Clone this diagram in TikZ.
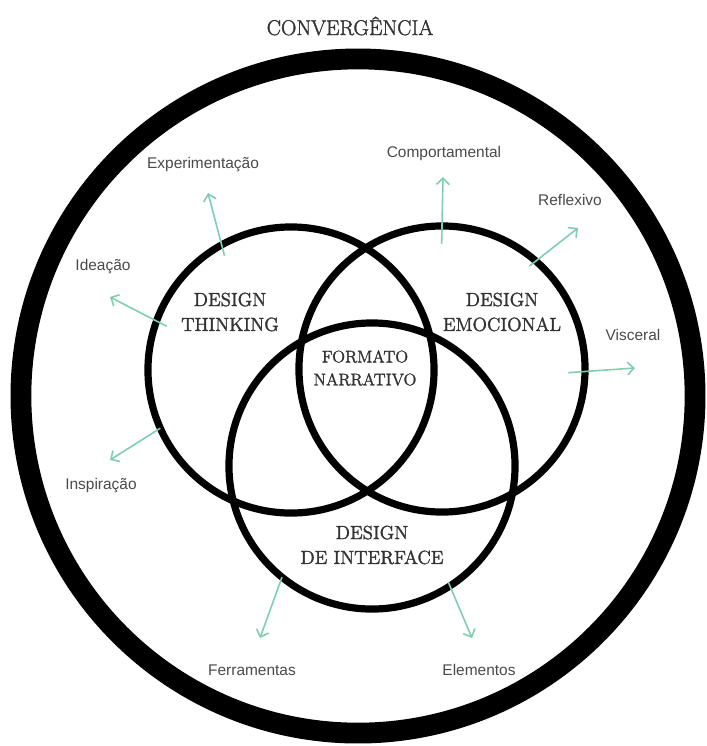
\documentclass[tikz,border=0pt]{standalone}
\usepackage{fontspec}
\newfontfamily\leaffont{Liberation Sans}
\newfontfamily\areafont[FakeBold=1.6]{Latin Modern Roman}
\usetikzlibrary{arrows.meta}
\definecolor{mint}{HTML}{7FCFAF}
\definecolor{inkgray}{HTML}{333333}
\definecolor{leafgray}{HTML}{4A4A4A}

\begin{document}
\begin{tikzpicture}[
    x=0.025cm, y=-0.025cm,
    ring/.style={circle, draw=black, line width=0.52cm, minimum size=16.85cm, inner sep=0pt, outer sep=0pt},
    venn/.style={circle, draw=black, line width=0.18cm, minimum size=7.15cm, inner sep=0pt, outer sep=0pt},
    area/.style={align=center, text=inkgray, font=\areafont\fontsize{13.5}{17.7}\selectfont},
    leaf/.style={text=leafgray, font=\leaffont\fontsize{11}{13}\selectfont},
    arr/.style={-{Straight Barb[length=1.6mm, width=3.2mm]}, draw=mint, line width=0.04cm}
]
\useasboundingbox (0,0) rectangle (707,746);

% outer ring and title
\node[ring] (conv) at (358,396) {};
\node[area, font=\areafont\fontsize{15.2}{18}\selectfont] (title) at (350,26) {CONVERGÊNCIA};

% the three circles
\node[venn] (dt) at (291,370) {};
\node[venn] (de) at (442,369) {};
\node[venn] (di) at (372,466) {};

\node[area] (dtname) at (230,312) {DESIGN\\THINKING};
\node[area] (dename) at (502,312) {DESIGN\\EMOCIONAL};
\node[area, font=\areafont\fontsize{12}{16.3}\selectfont] (fn) at (365,368) {FORMATO\\NARRATIVO};
\node[area] (diname) at (372,545) {DESIGN\\DE INTERFACE};

% outer labels
\node[leaf] (exp) at (203,165) {Experimentação};
\node[leaf] (idea) at (103,267) {Ideação};
\node[leaf] (insp) at (101,486) {Inspiração};
\node[leaf] (comp) at (444,153) {Comportamental};
\node[leaf] (refl) at (570,200) {Reflexivo};
\node[leaf] (visc) at (633,335) {Visceral};
\node[leaf] (ferr) at (252,670) {Ferramentas};
\node[leaf] (elem) at (479,670) {Elementos};

\coordinate (exptip) at (208,193);
\coordinate (ideatip) at (110,297);
\coordinate (insptip) at (110,460);
\coordinate (comptip) at (443,177);
\coordinate (refltip) at (578,228);
\coordinate (visctip) at (635,368);
\coordinate (ferrtip) at (260,638);
\coordinate (elemtip) at (472,638);

\draw[arr, shorten <=-0.28cm] (dt.119) -- (exptip);
\draw[arr, shorten <=-0.28cm] (dt.160) -- (ideatip);
\draw[arr] (dt.204) -- (insptip);
\draw[arr, shorten <=-0.45cm] (de.90) -- (comptip);
\draw[arr, shorten <=-0.2cm] (de.49) -- (refltip);
\draw[arr, shorten <=-0.42cm] (de.359) -- (visctip);
\draw[arr] (di.231) -- (ferrtip);
\draw[arr, shorten <=-0.1cm] (di.303) -- (elemtip);
\end{tikzpicture}
\end{document}
